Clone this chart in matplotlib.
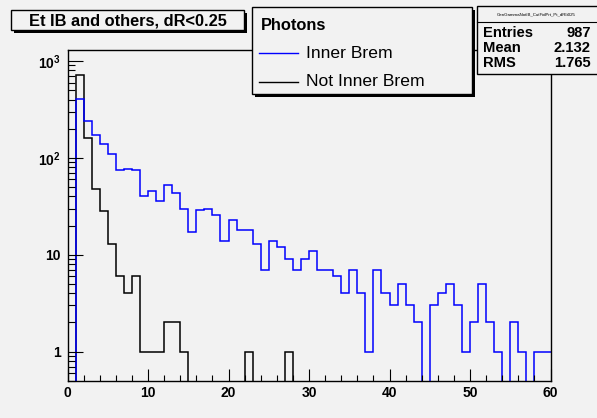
import numpy as np
import matplotlib
matplotlib.use("Agg")
import matplotlib.pyplot as plt
from matplotlib.patches import Rectangle
from matplotlib.lines import Line2D
from matplotlib.ticker import MultipleLocator, LogLocator, NullFormatter

plt.rcParams["font.family"] = ["Liberation Sans", "DejaVu Sans"]
plt.rcParams["mathtext.fontset"] = "custom"
plt.rcParams["mathtext.rm"] = "Liberation Sans:bold"
plt.rcParams["mathtext.bf"] = "Liberation Sans:bold"
plt.rcParams["mathtext.it"] = "Liberation Sans:bold"

# Histogram contents: 60 bins of width 1 in Et
bin_edges = np.arange(0, 61, 1)
inner_brem = [0, 405, 242, 174, 138, 110, 75, 77, 75, 40,
              45, 36, 52, 43, 30, 17, 29, 30, 26, 14,
              23, 18, 18, 13, 7, 14, 12, 9, 7, 9,
              11, 7, 7, 6, 4, 7, 4, 1, 7, 4,
              3, 5, 3, 2, 0, 3, 4, 5, 3, 1,
              2, 5, 2, 1, 0, 2, 1, 0, 1, 1]
not_inner_brem = [0, 712, 160, 48, 28, 13, 6, 4, 6, 1,
                  1, 1, 2, 2, 1, 0, 0, 0, 0, 0,
                  0, 0, 1, 0, 0, 0, 0, 1, 0, 0,
                  0, 0, 0, 0, 0, 0, 0, 0, 0, 0,
                  0, 0, 0, 0, 0, 0, 0, 0, 0, 0,
                  0, 0, 0, 0, 0, 0, 0, 0, 0, 0]

title = "Et IB and others, dR<0.25"
legend_header = "Photons"
legend_labels = ["Inner Brem", "Not Inner Brem"]
stats_name = "GenGammaNotIB_CutFidPrt_Pt_dRlt025"
stats_rows = [("Entries", "987"), ("Mean", "2.132"), ("RMS", "1.765")]
x_ticks = [0, 10, 20, 30, 40, 50, 60]
y_ticks = [1, 10, 100, 1000]
y_tick_labels = ["1", "10", r"$10^{2}$", r"$10^{3}$"]

BG = "#f2f2f2"
BLUE = "#0000ff"
W, H = 597, 418
fig = plt.figure(figsize=(W / 100, H / 100), dpi=100, facecolor=BG)


def fx(px):
    return px / W


def fy(py):
    return 1 - py / H


ax = fig.add_axes([fx(67.5), fy(380.7), (550.5 - 67.5) / W, (380.7 - 50) / H])
ax.set_facecolor(BG)
ax.set_yscale("log")

ax.stairs(not_inner_brem, bin_edges, color="black", lw=1.1, baseline=None)
ax.stairs(inner_brem, bin_edges, color=BLUE, lw=1.1, baseline=None)

ax.set_xlim(0, 60)
ax.set_ylim(0.5, 1300)

ax.set_xticks(x_ticks, labels=[str(t) for t in x_ticks], fontweight="bold", fontsize=10)
ax.xaxis.set_minor_locator(MultipleLocator(2))
ax.set_yticks(y_ticks, labels=y_tick_labels, fontweight="bold", fontsize=10)
ax.yaxis.set_minor_locator(LogLocator(base=10, subs=np.arange(2, 10)))
ax.yaxis.set_minor_formatter(NullFormatter())

ax.tick_params(axis="x", which="major", direction="in", length=8.6, width=0.8,
               top=False, pad=3.5)
ax.tick_params(axis="x", which="minor", direction="in", length=4.3, width=0.8, top=False)
ax.tick_params(axis="y", which="major", direction="in", length=10.8, width=0.8,
               right=False, pad=5)
ax.tick_params(axis="y", which="minor", direction="in", length=5, width=0.8, right=False)
for s in ax.spines.values():
    s.set_linewidth(1.0)
    s.set_color("black")


def box(x0, y0, x1, y1, shadow=3):
    if shadow:
        fig.add_artist(Rectangle((fx(x0 + shadow), fy(y1 + shadow)),
                                 (x1 - x0) / W, (y1 - y0) / H,
                                 transform=fig.transFigure, facecolor="black",
                                 edgecolor="black", lw=0, zorder=5))
    fig.add_artist(Rectangle((fx(x0), fy(y1)), (x1 - x0) / W, (y1 - y0) / H,
                             transform=fig.transFigure, facecolor=BG,
                             edgecolor="black", lw=1.0, zorder=6))


# Title box
box(11, 10, 244, 30)
fig.text(fx(128), fy(20.5), title, ha="center", va="center",
         fontsize=11.8, fontweight="bold", zorder=7)

# Legend box
box(252, 7, 472, 94)
fig.text(fx(261), fy(25), legend_header, ha="left", va="center",
         fontsize=11.8, fontweight="bold", zorder=7)
for yy, col, lab in [(53, BLUE, legend_labels[0]), (82, "black", legend_labels[1])]:
    fig.add_artist(Line2D([fx(259), fx(298)], [fy(yy), fy(yy)],
                          transform=fig.transFigure, color=col, lw=1.0, zorder=7))
    fig.text(fx(306), fy(yy), lab, ha="left", va="center", fontsize=12.6, zorder=7)

# Statistics box
box(477, 6, 603, 74, shadow=0)
fig.add_artist(Line2D([fx(477), fx(603)], [fy(22), fy(22)],
                      transform=fig.transFigure, color="black", lw=0.8, zorder=7))
fig.text(fx(536), fy(14.5), stats_name, ha="center", va="center",
         fontsize=3.2, zorder=7)
for i, (k, v) in enumerate(stats_rows):
    yy = 33 + 15 * i
    fig.text(fx(483), fy(yy), k, ha="left", va="center", fontsize=10.6,
             fontweight="bold", zorder=7)
    fig.text(fx(591), fy(yy), v, ha="right", va="center", fontsize=10.6,
             fontweight="bold", zorder=7)

fig.savefig("out.png", dpi=100, facecolor=BG)
